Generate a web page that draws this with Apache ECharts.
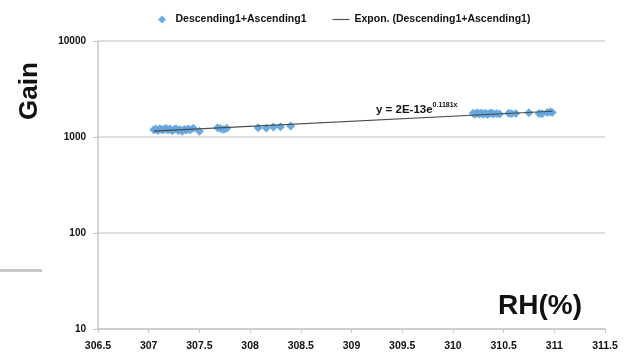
<!DOCTYPE html>
<html>
<head>
<meta charset="utf-8">
<script src="https://cdn.jsdelivr.net/npm/echarts@6/dist/echarts.min.js"></script>
<style>
  html, body { margin: 0; padding: 0; background: #ffffff; }
  #chart { width: 626px; height: 361px; }
</style>
</head>
<body>
<div id="chart"></div>
<script>
// Measured gain against RH(%) for the combined descending + ascending sweep
const rh = [
  307.05, 307.07, 307.09, 307.11, 307.13, 307.15, 307.17, 307.19, 307.21, 307.23,
  307.25, 307.27, 307.29, 307.31, 307.33, 307.35, 307.37, 307.39, 307.41, 307.44,
  307.50, 307.68, 307.71, 307.74, 307.77,
  308.08, 308.16, 308.23, 308.30, 308.40,
  310.20, 310.22, 310.24, 310.26, 310.28, 310.30, 310.32, 310.34, 310.36, 310.38,
  310.40, 310.43, 310.46, 310.55, 310.58, 310.62, 310.75, 310.85, 310.88, 310.93,
  310.96, 310.98
];
const gain = [
  1190, 1210, 1170, 1220, 1190, 1200, 1230, 1180, 1210, 1160,
  1200, 1220, 1170, 1190, 1150, 1200, 1180, 1210, 1190, 1230,
  1150, 1250, 1220, 1200, 1230,
  1250, 1240, 1270, 1280, 1300,
  1770, 1730, 1790, 1740, 1780, 1730, 1770, 1720, 1760, 1780,
  1740, 1760, 1740, 1770, 1750, 1760, 1790, 1760, 1750, 1800,
  1830, 1800
];

const yTicks = [10, 100, 1000, 10000];
const xMin = 306.5, xMax = 311.5, xStep = 0.5;

const seriesName = 'Descending1+Ascending1';
const trendName = 'Expon. (Descending1+Ascending1)';
const equation = { lead: 'y = 2E-13e', exp: '0.1181x' };

// Exponential least-squares fit (linear regression of ln(gain) on RH)
function expFit(xs, ys) {
  const n = xs.length;
  let sx = 0, sy = 0, sxx = 0, sxy = 0;
  for (let i = 0; i < n; i++) {
    const ly = Math.log(ys[i]);
    sx += xs[i]; sy += ly; sxx += xs[i] * xs[i]; sxy += xs[i] * ly;
  }
  const b = (n * sxy - sx * sy) / (n * sxx - sx * sx);
  const a = (sy - b * sx) / n;
  return x => Math.exp(a + b * x);
}
const fit = expFit(rh, gain);
const x0 = Math.min(...rh), x1 = Math.max(...rh);
const trend = [[x0, fit(x0)], [x1, fit(x1)]];

const points = rh.map((x, i) => [x, gain[i]]);

const font = '"Liberation Sans", Arial, sans-serif';
const markerColor = '#64a6dd';

const chart = echarts.init(document.getElementById('chart'), null, { renderer: 'canvas' });
chart.setOption({
  animation: false,
  backgroundColor: '#ffffff',
  textStyle: { fontFamily: font },
  legend: {
    top: 9,
    left: 153,
    itemGap: 26,
    itemWidth: 17,
    itemHeight: 8,
    symbolKeepAspect: true,
    textStyle: { fontFamily: font, fontWeight: 'bold', fontSize: 10.5, color: '#111' },
    data: [
      { name: seriesName, icon: 'path://M4,0 L8,4 L4,8 L0,4 Z', itemStyle: { color: markerColor } },
      { name: trendName, icon: 'path://M0,3.6 L17,3.6 L17,4.8 L0,4.8 Z', itemStyle: { color: '#555' } }
    ]
  },
  grid: { left: 98, right: 21, top: 41, bottom: 32 },
  xAxis: {
    type: 'value',
    min: xMin,
    max: xMax,
    interval: xStep,
    axisLine: { show: true, lineStyle: { color: '#c8c8c8', width: 1.5 } },
    axisTick: { show: true, length: 4, lineStyle: { color: '#c8c8c8' } },
    splitLine: { show: false },
    axisLabel: { fontFamily: font, fontWeight: 'bold', fontSize: 10.5, color: '#111', margin: 12 }
  },
  yAxis: {
    type: 'log',
    logBase: 10,
    min: yTicks[0],
    max: yTicks[yTicks.length - 1],
    axisLine: { show: true, lineStyle: { color: '#c8c8c8', width: 1.5 } },
    axisTick: { show: true, length: 5, lineStyle: { color: '#c8c8c8' } },
    splitLine: { show: true, lineStyle: { color: '#d4d4d4', width: 1.5 } },
    minorTick: { show: false },
    axisLabel: {
      fontFamily: font, fontWeight: 'bold', fontSize: 10, color: '#111', margin: 12,
      formatter: v => String(Math.round(v))
    }
  },
  series: [
    {
      name: seriesName,
      type: 'scatter',
      symbol: 'diamond',
      symbolSize: 9,
      itemStyle: { color: markerColor, opacity: 0.95 },
      data: points,
      z: 2
    },
    {
      name: trendName,
      type: 'line',
      showSymbol: false,
      symbol: 'none',
      lineStyle: { color: '#4a4a4a', width: 1.2 },
      data: trend,
      z: 3
    }
  ],
  graphic: [
    {
      type: 'text',
      left: 376, top: 102,
      style: {
        text: '{a|' + equation.lead + '}{b|' + equation.exp + '}',
        rich: {
          a: { fontFamily: font, fontWeight: 'bold', fontSize: 11.5, fill: '#111', verticalAlign: 'bottom', lineHeight: 14 },
          b: { fontFamily: font, fontWeight: 'bold', fontSize: 7, fill: '#111', verticalAlign: 'top', padding: [0, 0, 4, 0] }
        }
      }
    },
    {
      type: 'text',
      x: 30, y: 91,
      rotation: Math.PI / 2,
      style: {
        x: 0, y: 0, text: 'Gain', align: 'center', verticalAlign: 'middle',
        fontFamily: font, fontWeight: 'bold', fontSize: 26, fill: '#111'
      }
    },
    {
      type: 'text',
      left: 498, top: 292,
      style: { text: 'RH(%)', fontFamily: font, fontWeight: 'bold', fontSize: 28, fill: '#111' }
    },
    {
      type: 'rect',
      left: 0, top: 269,
      shape: { width: 42, height: 3 },
      style: { fill: '#c8c8c8' }
    }
  ]
});
</script>
</body>
</html>
